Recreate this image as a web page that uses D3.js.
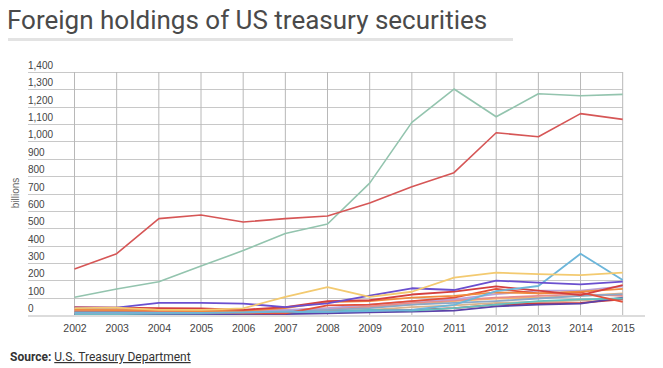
<!DOCTYPE html>
<html>
<head>
<meta charset="utf-8">
<script src="https://cdn.jsdelivr.net/npm/d3@7"></script>
<style>
  body { margin: 0; background: #fff; }
  svg { display: block; }
</style>
</head>
<body>
<svg id="chart" width="663" height="368"></svg>
<script>
// years on the x axis
var years = [2002, 2003, 2004, 2005, 2006, 2007, 2008, 2009, 2010, 2011, 2012, 2013, 2014, 2015];
var yTicks = [0, 100, 200, 300, 400, 500, 600, 700, 800, 900, 1000, 1100, 1200, 1300, 1400];

// holdings, billions
var china      = [102, 150, 192, 282, 371, 470, 524, 760, 1110, 1302, 1142, 1275, 1263, 1271];
var japan      = [265, 353, 555, 576, 536, 555, 570, 645, 739, 820, 1050, 1027, 1160, 1127];
var caribbean  = [40, 42, 30, 30, 38, 105, 160, 105, 134, 215, 244, 236, 230, 244];
var belgium    = [15, 15, 12, 12, 14, 20, 18, 22, 30, 58, 138, 167, 353, 202];
var uk         = [42, 42, 70, 70, 66, 45, 67, 111, 154, 144, 198, 186, 177, 192];
var oil        = [45, 42, 40, 38, 30, 45, 80, 85, 118, 135, 165, 140, 115, 172];
var brazil     = [30, 28, 25, 22, 25, 40, 75, 80, 100, 110, 130, 125, 135, 150];
var switzerland = [20, 18, 15, 15, 10, 10, 55, 60, 80, 100, 150, 125, 130, 75];
var taiwan     = [25, 25, 20, 25, 30, 30, 40, 60, 80, 90, 120, 140, 140, 165];
var hongkong   = [10, 10, 12, 15, 20, 25, 30, 40, 60, 70, 80, 95, 110, 120];
var luxembourg = [35, 30, 30, 30, 25, 20, 35, 50, 70, 85, 100, 110, 120, 110];
var ireland    = [5, 5, 8, 10, 12, 15, 20, 30, 25, 40, 60, 80, 90, 95];
var singapore  = [5, 5, 5, 5, 5, 5, 10, 15, 20, 25, 50, 60, 65, 100];
var russia     = [5, 5, 5, 5, 8, 10, 20, 25, 30, 40, 60, 65, 70, 90];
var india      = [15, 15, 12, 15, 18, 25, 40, 45, 60, 80, 95, 100, 110, 125];
var france     = [8, 8, 8, 10, 12, 15, 25, 30, 45, 55, 70, 75, 85, 95];

var series = [
  {name: 'France', values: france, color: '#d8b48c'},
  {name: 'India', values: india, color: '#f5b36e'},
  {name: 'Russia', values: russia, color: '#cc3a3a'},
  {name: 'Singapore', values: singapore, color: '#5b42a8'},
  {name: 'Ireland', values: ireland, color: '#63c2c0'},
  {name: 'Luxembourg', values: luxembourg, color: '#e68c8c'},
  {name: 'Hong Kong', values: hongkong, color: '#8aa8c8'},
  {name: 'Taiwan', values: taiwan, color: '#b9a2d9'},
  {name: 'Switzerland', values: switzerland, color: '#e4503a'},
  {name: 'Brazil', values: brazil, color: '#f08a3e'},
  {name: 'Oil exporters', values: oil, color: '#d43f3f'},
  {name: 'Belgium', values: belgium, color: '#6cb6da'},
  {name: 'UK', values: uk, color: '#6a4fcf'},
  {name: 'Caribbean', values: caribbean, color: '#f3ca70'},
  {name: 'China', values: china, color: '#93c4ae'},
  {name: 'Japan', values: japan, color: '#d65656'}
];

var svg = d3.select('#chart');

var x = d3.scaleLinear().domain([2002, 2015]).range([74.5, 622.7]);
var y = d3.scaleLinear().domain([0, 1400]).range([315, 72]);

// title
svg.append('text')
  .attr('x', 7).attr('y', 29)
  .attr('font-family', 'Roboto, sans-serif')
  .attr('font-size', 26)
  .attr('fill', '#4a4a4a')
  .text('Foreign holdings of US treasury securities');

svg.append('rect')
  .attr('x', 8).attr('y', 38).attr('width', 505).attr('height', 3)
  .attr('fill', '#e3e3e3');

// horizontal grid + labels
var grid = svg.append('g');
grid.selectAll('line.h').data(yTicks).enter().append('line')
  .attr('class', 'h')
  .attr('x1', 28).attr('x2', 622.7)
  .attr('y1', function(d) { return Math.round(y(d)) + 0.5; })
  .attr('y2', function(d) { return Math.round(y(d)) + 0.5; })
  .attr('stroke', '#c8c8c8');

grid.selectAll('text.ylab').data(yTicks).enter().append('text')
  .attr('class', 'ylab')
  .attr('x', 28)
  .attr('y', function(d) { return y(d) - 3; })
  .attr('font-family', 'Liberation Sans, Arial, sans-serif')
  .attr('font-size', 10)
  .attr('fill', '#444')
  .text(function(d) { return d3.format(',')(d); });

// vertical grid
grid.selectAll('line.v').data(years).enter().append('line')
  .attr('class', 'v')
  .attr('x1', function(d) { return x(d); })
  .attr('x2', function(d) { return x(d); })
  .attr('y1', 72).attr('y2', 315)
  .attr('stroke', '#b8b8b8');

// bottom axis line
svg.append('line')
  .attr('x1', 28).attr('x2', 645)
  .attr('y1', 316).attr('y2', 316)
  .attr('stroke', '#dcdcdc').attr('stroke-width', 2);

// x labels via d3 axis
var xAxis = d3.axisBottom(x).tickValues(years).tickFormat(d3.format('d')).tickSize(0).tickPadding(8);
var gx = svg.append('g').attr('transform', 'translate(0,317)').call(xAxis);
gx.select('.domain').remove();
gx.selectAll('text')
  .attr('font-family', 'Liberation Sans, Arial, sans-serif')
  .attr('font-size', 10.5)
  .attr('fill', '#444');

// y title
svg.append('text')
  .attr('transform', 'translate(19,193) rotate(-90)')
  .attr('text-anchor', 'middle')
  .attr('font-family', 'Liberation Sans, Arial, sans-serif')
  .attr('font-size', 10)
  .attr('fill', '#666')
  .text('billions');

// lines
var line = d3.line()
  .x(function(d, i) { return x(years[i]); })
  .y(function(d) { return y(d); });

svg.append('g').selectAll('path').data(series).enter().append('path')
  .attr('d', function(s) { return line(s.values); })
  .attr('fill', 'none')
  .attr('stroke', function(s) { return s.color; })
  .attr('stroke-width', function(s) { return s.values[9] > 500 ? 1.6 : 1.8; })
  .attr('stroke-linejoin', 'round');

// source
var src = svg.append('text')
  .attr('x', 10).attr('y', 361)
  .attr('font-family', 'Roboto, sans-serif')
  .attr('font-size', 12)
  .attr('fill', '#333');
src.append('tspan').attr('font-weight', 'bold').text('Source: ');
src.append('tspan').attr('text-decoration', 'underline').text('U.S. Treasury Department');
</script>
</body>
</html>
